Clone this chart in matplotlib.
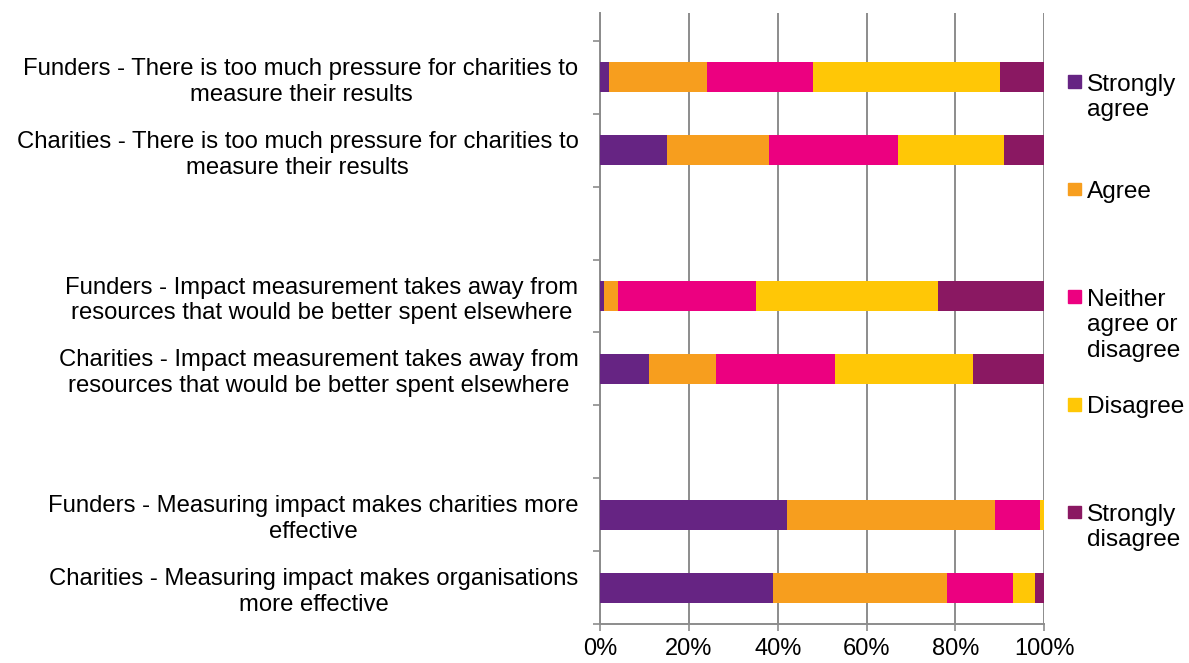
import matplotlib
matplotlib.use("Agg")
import matplotlib.pyplot as plt
from matplotlib.patches import Rectangle
import numpy as np

plt.rcParams['font.family'] = ['Liberation Sans', 'DejaVu Sans']

categories = [
    "Funders - There is too much pressure for charities to\nmeasure their results",
    "Charities - There is too much pressure for charities to\nmeasure their results",
    "Funders - Impact measurement takes away from\nresources that would be better spent elsewhere",
    "Charities - Impact measurement takes away from\nresources that would be better spent elsewhere",
    "Funders - Measuring impact makes charities more\neffective",
    "Charities - Measuring impact makes organisations\nmore effective",
]
series_names = ["Strongly\nagree", "Agree", "Neither\nagree or\ndisagree", "Disagree", "Strongly\ndisagree"]
strongly_agree    = [2, 15, 1, 11, 42, 39]
agree             = [22, 23, 3, 15, 47, 39]
neither           = [24, 29, 31, 27, 10, 15]
disagree          = [42, 24, 41, 31, 1, 5]
strongly_disagree = [10, 9, 24, 16, 0, 2]
colors = ["#662483", "#F79E1E", "#EC0080", "#FFC706", "#8A1862"]

series = [strongly_agree, agree, neither, disagree, strongly_disagree]

W, H = 1189, 663
fig = plt.figure(figsize=(W / 100, H / 100), dpi=100)
ax = fig.add_axes([600 / W, (H - 624) / H, 444.3 / W, (624 - 13) / H])

n = len(categories)
pos = np.array([i + i // 2 for i in range(n)], dtype=float)
n_slots = int(pos.max()) + 1

left = np.zeros(n)
for vals, c in zip(series, colors):
    v = np.array(vals, dtype=float) / 100.0
    ax.barh(pos, v, left=left, height=0.41, color=c, edgecolor='none', zorder=3)
    left += v

ax.set_xlim(0, 1)
ax.set_ylim(n_slots - 0.5, -0.5 - 28 / 73)

ax.set_xticks(np.arange(0, 1.01, 0.2))
ax.set_xticklabels([f"{int(round(t * 100))}%" for t in np.arange(0, 1.01, 0.2)], fontsize=17)
ax.xaxis.grid(True, color='#8c8c8c', linewidth=1.4, zorder=0)
ax.tick_params(axis='x', direction='out', length=5, width=1.2, color='#8c8c8c', pad=5)

ax.set_yticks(pos)
ax.set_yticklabels(categories, fontsize=17.2, multialignment='center', linespacing=1.23)
ax.set_yticks(np.arange(-0.5, n_slots, 1.0), minor=True)
ax.tick_params(axis='y', which='major', length=0, pad=15.5)
ax.tick_params(axis='y', which='minor', direction='out', length=5, width=1.2, color='#8c8c8c')

for s in ['top', 'right']:
    ax.spines[s].set_visible(False)
for s in ['left', 'bottom']:
    ax.spines[s].set_color('#8c8c8c')
    ax.spines[s].set_linewidth(1.4)
ax.set_axisbelow(True)

# Legend (manual, Excel-like spacing)
for k, (name, c) in enumerate(zip(series_names, colors)):
    yc = 81.5 + 107.6 * k
    fig.patches.append(Rectangle((1068 / W, (H - yc - 6.3) / H), 12.7 / W, 12.7 / H,
                                 transform=fig.transFigure, color=c, figure=fig))
    fig.text(1087 / W, (H - yc + 8) / H, name, fontsize=17.6, va='top', ha='left',
             linespacing=1.21)

fig.savefig("out.png", dpi=100)
